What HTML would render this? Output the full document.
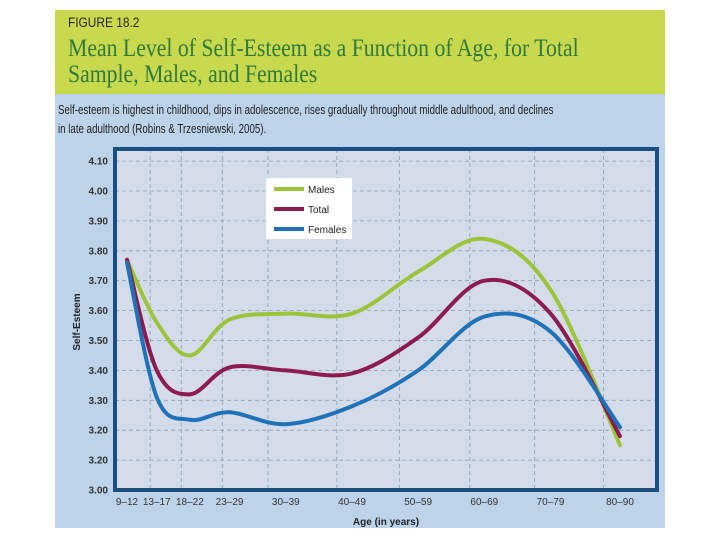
<!DOCTYPE html>
<html><head><meta charset="utf-8"><style>
body{margin:0;width:720px;height:540px;background:#fff;overflow:hidden;font-family:"Liberation Sans",sans-serif;}
</style></head><body>
<svg width="720" height="540" xmlns="http://www.w3.org/2000/svg">
<rect x="55" y="10" width="610" height="84" fill="#c8d94e"/>
<rect x="55" y="94" width="610" height="434" fill="#bcd3ea"/>
<text x="68" y="27" font-size="14" fill="#2a2a2a" font-family="Liberation Sans Narrow, Liberation Sans, sans-serif" transform="translate(68 0) scale(0.85 1) translate(-68 0)">FIGURE 18.2</text>
<text x="68" y="56" font-size="25" fill="#2f7a3c" font-family="Liberation Serif, serif" transform="translate(68 0) scale(0.87 1) translate(-68 0)">Mean Level of Self-Esteem as a Function of Age, for Total</text>
<text x="68" y="82" font-size="25" fill="#2f7a3c" font-family="Liberation Serif, serif" transform="translate(68 0) scale(0.87 1) translate(-68 0)">Sample, Males, and Females</text>
<text x="58" y="114" font-size="12.5" fill="#222" transform="translate(58 0) scale(0.78 1) translate(-58 0)">Self-esteem is highest in childhood, dips in adolescence, rises gradually throughout middle adulthood, and declines</text>
<text x="58" y="133" font-size="12.5" fill="#222" transform="translate(58 0) scale(0.78 1) translate(-58 0)">in late adulthood (Robins &amp; Trzesniewski, 2005).</text>
<rect x="115" y="149" width="542" height="341" fill="#d4dcea"/>
<g id="grid"></g>
<g id="series"></g>
<rect x="115" y="149" width="542" height="341" fill="none" stroke="#1b4f82" stroke-width="4"/>
<g id="yticks"></g>
<g id="xticks"></g>
<text x="0" y="0" font-size="10" font-weight="bold" fill="#222" transform="translate(80 322) rotate(-90)" text-anchor="middle">Self-Esteem</text>
<text x="386" y="525" font-size="10" font-weight="bold" fill="#222" text-anchor="middle">Age (in years)</text>
<g>
<rect x="266" y="178" width="86" height="61" fill="#fff"/>
<line x1="274" y1="189" x2="304" y2="189" stroke="#9cc43a" stroke-width="4"/>
<text x="308" y="193" font-size="10" fill="#222">Males</text>
<line x1="274" y1="209" x2="304" y2="209" stroke="#8c1c4f" stroke-width="4"/>
<text x="308" y="213" font-size="10" fill="#222">Total</text>
<line x1="274" y1="229" x2="304" y2="229" stroke="#1f72b8" stroke-width="4"/>
<text x="308" y="233" font-size="10" fill="#222">Females</text>
</g>
</svg>
<script>
const categories=["9–12","13–17","18–22","23–29","30–39","40–49","50–59","60–69","70–79","80–90"];
const ageMid=[10.5,15,20,26,34.5,44.5,54.5,64.5,74.5,85];
const males=[3.77,3.56,3.45,3.57,3.59,3.59,3.73,3.84,3.67,3.15];
const total=[3.77,3.40,3.32,3.41,3.40,3.39,3.51,3.70,3.59,3.18];
const females=[3.76,3.31,3.235,3.26,3.22,3.28,3.40,3.58,3.53,3.21];
const yTickValues=[4.1,4.0,3.9,3.8,3.7,3.6,3.5,3.4,3.3,3.2,3.1,3.0];
const yTickLabels=["4.10","4.00","3.90","3.80","3.70","3.60","3.50","3.40","3.30","3.20","3.20","3.00"];
const xGridAges=[14,18.7,24.9,31.8,42.2,51.7,62.3,72.1,82.5];
const NS="http://www.w3.org/2000/svg";
function xs(a){return 127+(a-10.5)*(493/74.5);}
function ys(v){return 490-(v-3)*299;}
const grid=document.getElementById('grid');
yTickValues.forEach((v,i)=>{
  if(i===yTickValues.length-1)return;
  const l=document.createElementNS(NS,'line');
  l.setAttribute('x1',115);l.setAttribute('x2',657);l.setAttribute('y1',ys(v));l.setAttribute('y2',ys(v));
  l.setAttribute('stroke','#8c9cb4');l.setAttribute('stroke-dasharray','4 3');l.setAttribute('stroke-width','0.8');
  
  
  grid.appendChild(l);
});
xGridAges.forEach(a=>{
  const l=document.createElementNS(NS,'line');
  l.setAttribute('x1',xs(a));l.setAttribute('x2',xs(a));l.setAttribute('y1',149);l.setAttribute('y2',490);
  l.setAttribute('stroke','#8c9cb4');l.setAttribute('stroke-dasharray','4 3');l.setAttribute('stroke-width','0.8');
  
  
  grid.appendChild(l);
});
const yt=document.getElementById('yticks');
yTickValues.forEach((v,i)=>{
  const t=document.createElementNS(NS,'text');
  t.setAttribute('x',108);t.setAttribute('y',ys(v)+3.5);t.setAttribute('text-anchor','end');
  t.setAttribute('font-size','10');t.setAttribute('font-weight','bold');t.setAttribute('fill','#333');
  t.textContent=yTickLabels[i];
  
  
  yt.appendChild(t);
});
const xt=document.getElementById('xticks');
categories.forEach((c,i)=>{
  const t=document.createElementNS(NS,'text');
  t.setAttribute('x',xs(ageMid[i]));t.setAttribute('y',505);t.setAttribute('text-anchor','middle');
  t.setAttribute('font-size','10');t.setAttribute('fill','#333');
  t.textContent=c;
  
  
  xt.appendChild(t);
});
function pathFor(vals){
  const p=vals.map((v,i)=>[xs(ageMid[i]),ys(v)]);
  let d='M'+p[0][0]+','+p[0][1];
  for(let i=0;i<p.length-1;i++){
    const p0=p[i-1]||p[i],p1=p[i],p2=p[i+1],p3=p[i+2]||p[i+1];
    const c1=[p1[0]+(p2[0]-p0[0])/6,p1[1]+(p2[1]-p0[1])/6];
    const c2=[p2[0]-(p3[0]-p1[0])/6,p2[1]-(p3[1]-p1[1])/6];
    d+=' C'+c1+' '+c2+' '+p2;
  }
  return d;
}
const sg=document.getElementById('series');
[[males,'#9cc43a','line-males'],[total,'#8c1c4f','line-total'],[females,'#1f72b8','line-females']].forEach(s=>{
  const path=document.createElementNS(NS,'path');
  path.setAttribute('d',pathFor(s[0]));path.setAttribute('fill','none');
  path.setAttribute('stroke',s[1]);path.setAttribute('stroke-width','4');path.setAttribute('stroke-linecap','round');
  
  
  sg.appendChild(path);
});
</script>
</body></html>
